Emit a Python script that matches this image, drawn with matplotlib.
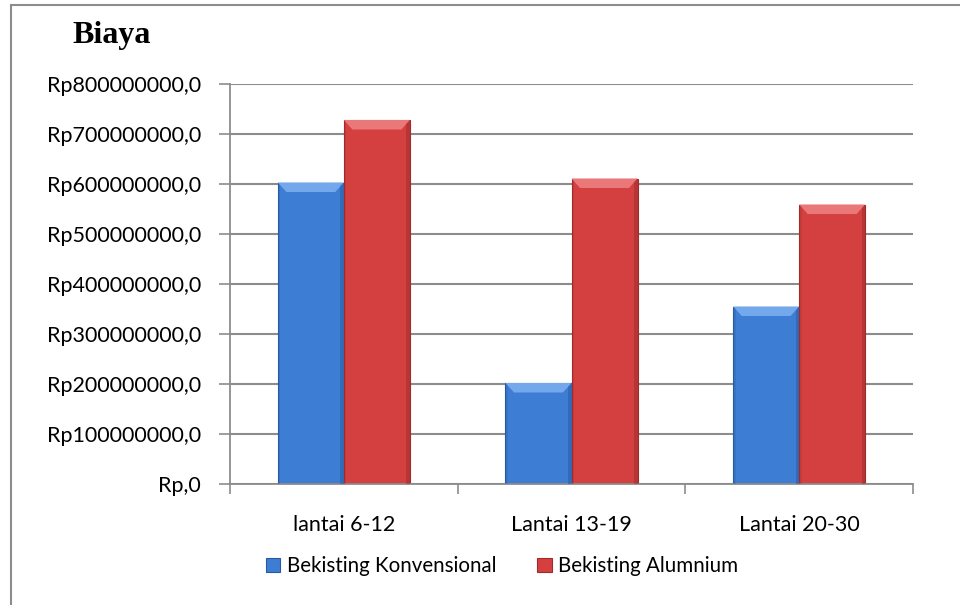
import numpy as np
import matplotlib
matplotlib.use("Agg")
import matplotlib.pyplot as plt
from matplotlib.lines import Line2D
from matplotlib.patches import Polygon
from matplotlib.ticker import FuncFormatter, FixedLocator

categories = ["lantai 6-12", "Lantai 13-19", "Lantai 20-30"]
konvensional = [603000000, 202000000, 355000000]
alumunium = [728000000, 611000000, 559000000]
series_names = ["Bekisting Konvensional", "Bekisting Alumnium"]

blue = "#3D7DD3"
blue_dark = "#2A5A9E"
blue_light = "#74A8EC"
red = "#D44040"
red_dark = "#9E2C2C"
red_light = "#EA7878"

plt.rcParams["font.family"] = ["Lato", "DejaVu Sans"]

fig = plt.figure(figsize=(9.6, 6.05), dpi=100)
ax = fig.add_axes([230 / 960, 1 - 484 / 605, 683 / 960, 400 / 605])

x = np.arange(len(categories))
w = 0.29


def bevel(bars, light, dark):
    # fake the excel bevel: lighter top edge, darker sides
    for b in bars:
        x0, y0 = b.get_x(), b.get_y()
        bw, bh = b.get_width(), b.get_height()
        x1, y1 = x0 + bw, y0 + bh
        dx = bw * 0.13
        dy = 19e6
        ax.add_patch(Polygon([(x0, y1), (x1, y1), (x1 - dx, y1 - dy), (x0 + dx, y1 - dy)],
                             closed=True, facecolor=light, edgecolor="none", zorder=3))
        ax.add_patch(Polygon([(x1, y1), (x1, y0), (x1 - dx * 0.4, y0), (x1 - dx * 0.4, y1 - dy * 0.4)],
                             closed=True, facecolor=dark, edgecolor="none", alpha=0.5, zorder=3))
        ax.add_patch(Polygon([(x0, y1), (x0, y0), (x0 + dx * 0.3, y0), (x0 + dx * 0.3, y1 - dy * 0.3)],
                             closed=True, facecolor=dark, edgecolor="none", alpha=0.25, zorder=3))


b1 = ax.bar(x - w / 2, konvensional, w, color=blue, edgecolor=blue_dark,
            linewidth=0.8, zorder=2, label=series_names[0])
b2 = ax.bar(x + w / 2, alumunium, w, color=red, edgecolor=red_dark,
            linewidth=0.8, zorder=2, label=series_names[1])
bevel(b1, blue_light, blue_dark)
bevel(b2, red_light, red_dark)

ax.set_xlim(-0.5, 2.5)
ax.set_ylim(0, 800000000)
ax.set_yticks(np.arange(0, 800000001, 100000000))
ax.yaxis.set_major_formatter(FuncFormatter(
    lambda v, p: "Rp,0" if v == 0 else "Rp%d,0" % int(v)))
ax.grid(axis="y", color="#8C8C8C", linewidth=1.5, zorder=0)
ax.set_axisbelow(True)

ax.set_xticks(x)
ax.set_xticklabels(categories)
ax.xaxis.set_minor_locator(FixedLocator([-0.5, 0.5, 1.5, 2.5]))
ax.tick_params(axis="x", which="major", length=0, pad=22, labelsize=15.5)
ax.tick_params(axis="x", which="minor", length=7, width=1.2, color="#8C8C8C", direction="out")
ax.tick_params(axis="y", length=8, width=1.2, color="#8C8C8C", pad=13, labelsize=15.5)

for s in ["top", "right"]:
    ax.spines[s].set_visible(False)
ax.spines["left"].set_color("#8C8C8C")
ax.spines["bottom"].set_color("#8C8C8C")
ax.spines["left"].set_linewidth(1.3)
ax.spines["bottom"].set_linewidth(1.3)

fig.text(72 / 960, 1 - 36 / 605, "Biaya", family="Liberation Serif",
         fontweight="bold", fontsize=23, va="center", ha="left")

fig.legend(handles=[b1, b2], loc="center", bbox_to_anchor=(502 / 960, 1 - 566 / 605),
           ncol=2, frameon=False, fontsize=14.8, handlelength=0.7, handleheight=0.7,
           handletextpad=0.3, columnspacing=2.0)

# outer chart border (left and top only are visible in the crop)
fig.add_artist(Line2D([11 / 960, 11 / 960], [0, 1 - 5 / 605], color="#8C8C8C", lw=1.5))
fig.add_artist(Line2D([11 / 960, 1], [1 - 5 / 605, 1 - 5 / 605], color="#8C8C8C", lw=1.5))

fig.savefig("out.png", dpi=100)
